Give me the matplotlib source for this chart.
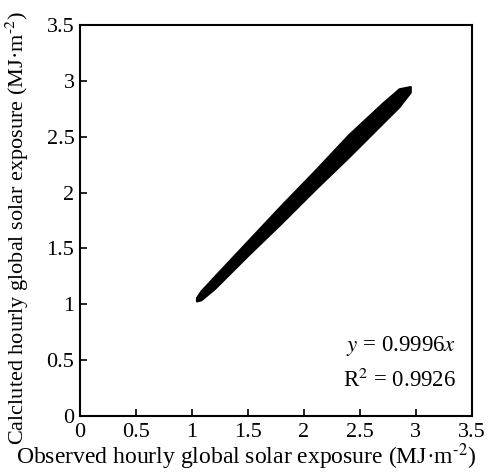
import matplotlib
matplotlib.use("Agg")
import matplotlib.pyplot as plt

plt.rcParams['font.family'] = ['Liberation Serif', 'DejaVu Serif']
plt.rcParams['mathtext.fontset'] = 'stix'

# band of observed vs calculated points, edges
band_x = [1.04, 1.08, 1.2, 1.5, 1.8, 2.1, 2.4, 2.7, 2.85, 2.95]
band_upper = [1.06, 1.12, 1.25, 1.57, 1.89, 2.20, 2.52, 2.80, 2.93, 2.95]
band_lower = [1.03, 1.04, 1.14, 1.44, 1.73, 2.03, 2.32, 2.62, 2.77, 2.90]

ticks = [0, 0.5, 1, 1.5, 2, 2.5, 3, 3.5]
tick_labels = ['0', '0.5', '1', '1.5', '2', '2.5', '3', '3.5']

fig = plt.figure(figsize=(4.91, 4.73), dpi=100)
ax = fig.add_axes([0.163, 0.1205, 0.798, 0.8265])

ax.fill_between(band_x, band_lower, band_upper, color='black', linewidth=1.5, edgecolor='black')

ax.set_xlim(0, 3.5)
ax.set_ylim(0, 3.5)
ax.set_xticks(ticks)
ax.set_yticks(ticks)
ax.set_xticklabels(tick_labels)
ax.set_yticklabels(tick_labels)
ax.tick_params(direction='in', length=5, width=1.2, labelsize=16)
ax.tick_params(axis='x', pad=5)
ax.tick_params(axis='y', pad=4)

for s in ax.spines.values():
    s.set_linewidth(1.5)

ax.set_xlabel('Observed hourly global solar exposure (MJ·m$^{\\text{-2}}$)', fontsize=17)
ax.set_ylabel('Calcluted hourly global solar exposure (MJ·m$^{\\text{-2}}$)', fontsize=16)
ax.xaxis.set_label_coords(0.425, -0.066)
ax.yaxis.set_label_coords(-0.125, 0.48)

ax.text(0.96, 0.18, '$y$ = 0.9996$x$', transform=ax.transAxes, ha='right', va='center', fontsize=16.5)
ax.text(0.96, 0.092, 'R$^2$ = 0.9926', transform=ax.transAxes, ha='right', va='center', fontsize=16.5)

fig.savefig('out.png', dpi=100)
